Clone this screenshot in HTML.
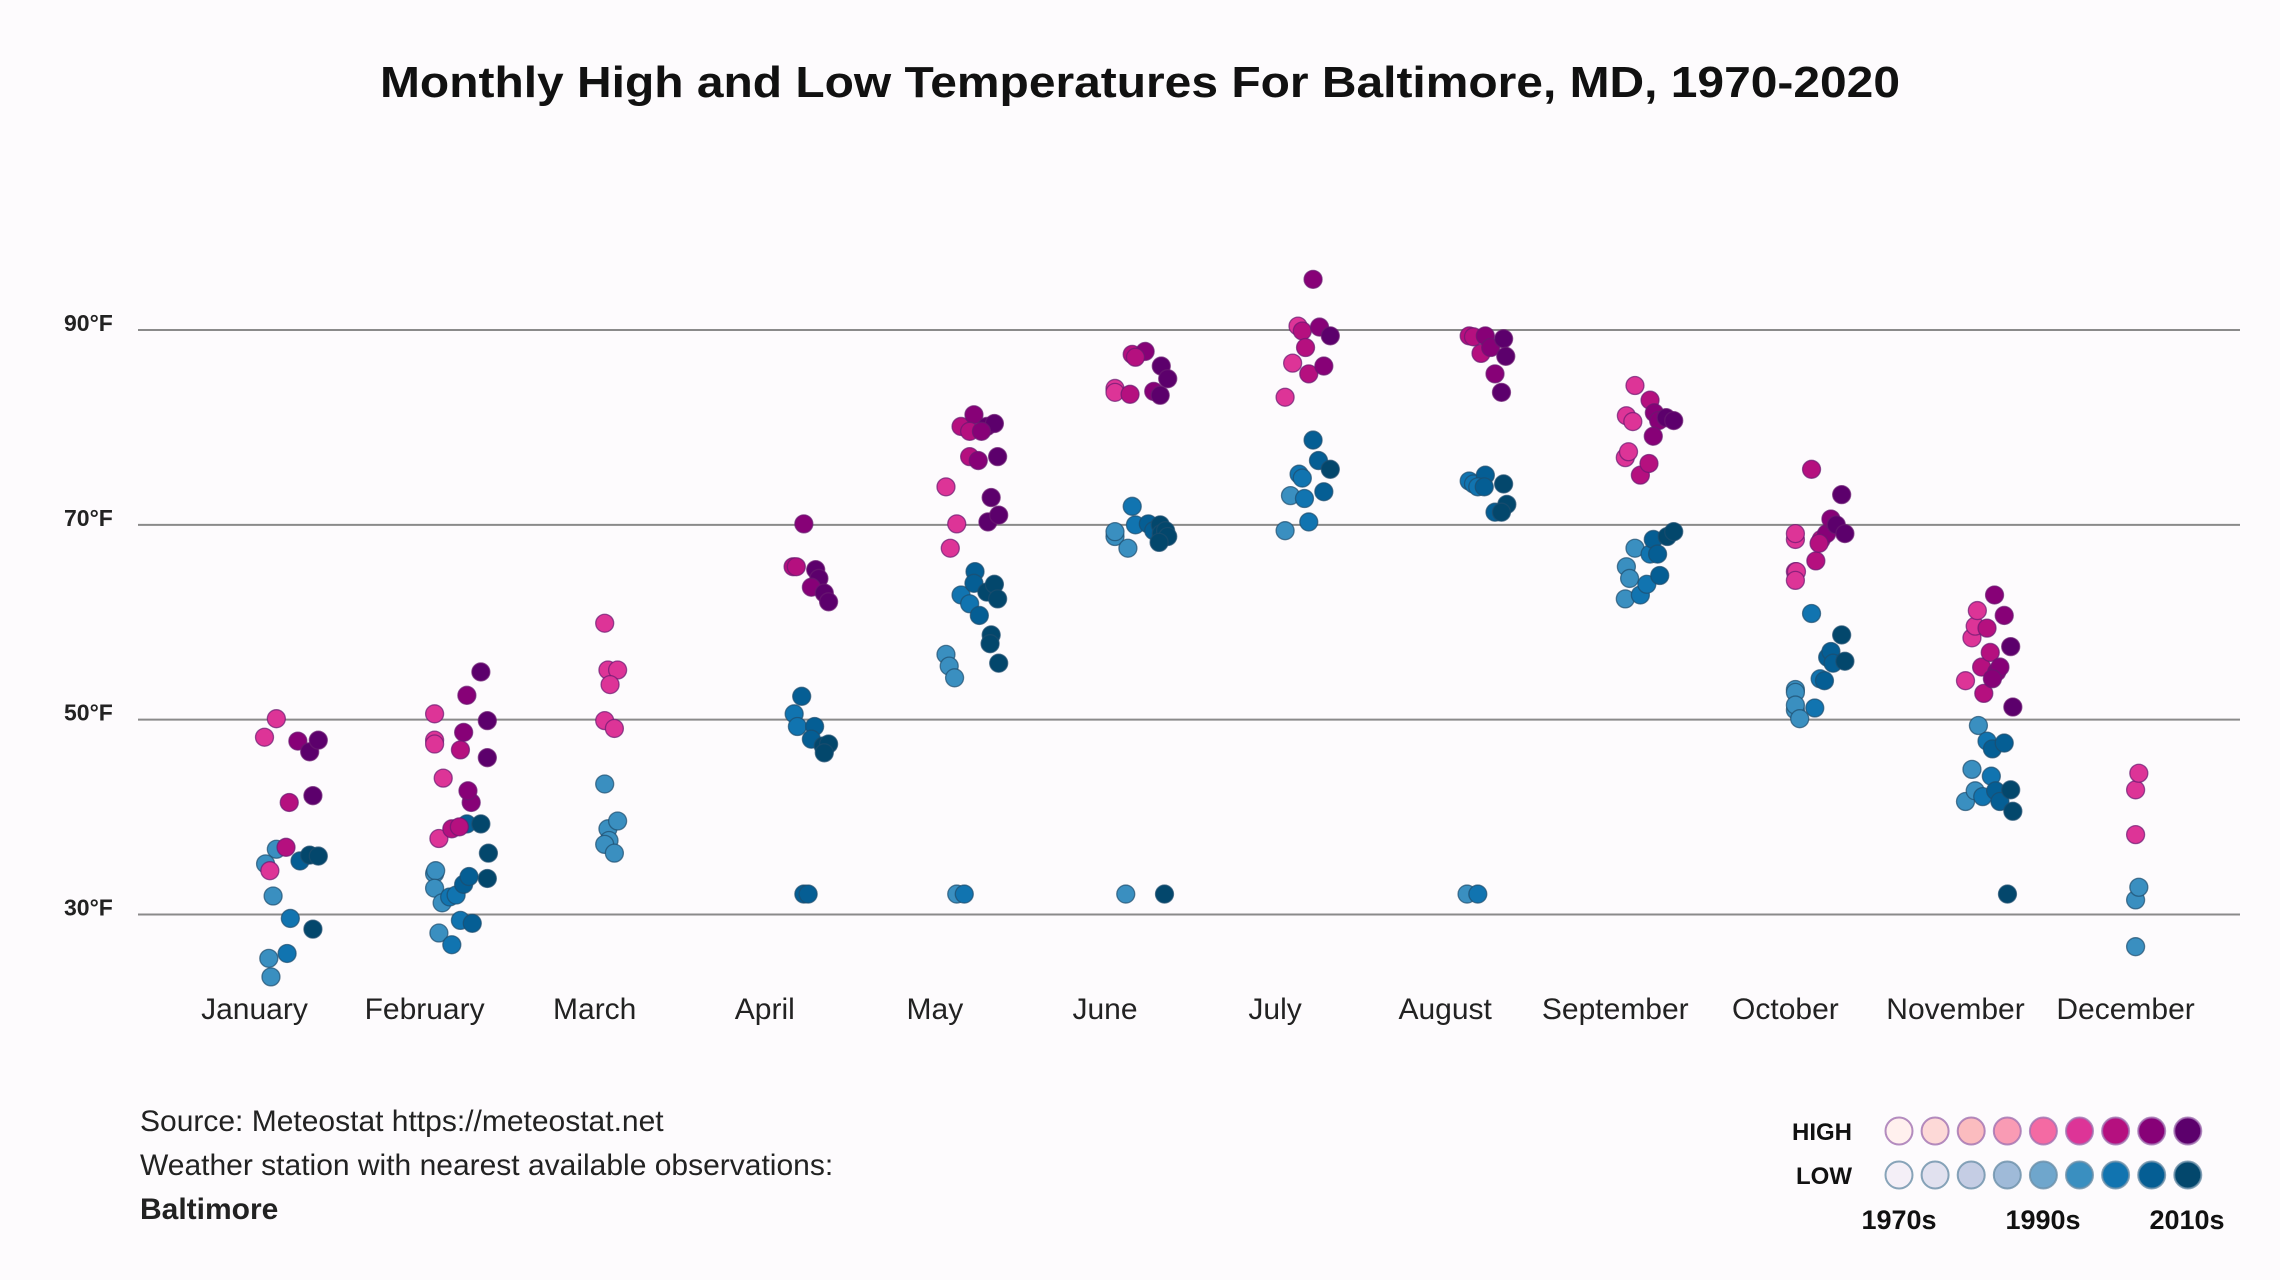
<!DOCTYPE html>
<html><head><meta charset="utf-8"><style>
html,body{margin:0;padding:0;background:#fdfbfd;}
svg{display:block;font-family:"Liberation Sans",sans-serif;}
</style></head><body>
<svg id="chart" width="2280" height="1280" viewBox="0 0 2280 1280">
<rect width="2280" height="1280" fill="#fdfbfd"/>
<text x="1140" y="97" text-anchor="middle" font-size="44" font-weight="bold" fill="#111" textLength="1520" lengthAdjust="spacingAndGlyphs">Monthly High and Low Temperatures For Baltimore, MD, 1970-2020</text>
<g id="grid"></g>
<g id="ylabels"></g>
<g id="xlabels"></g>
<g id="points"></g>
<g font-size="30" fill="#222">
<text x="140" y="1131">Source: Meteostat https://meteostat.net</text>
<text x="140" y="1175">Weather station with nearest available observations:</text>
<text x="140" y="1219" font-weight="bold">Baltimore</text>
</g>
<g id="legend" font-weight="bold" font-size="24" fill="#111">
<text x="1852" y="1140" text-anchor="end">HIGH</text>
<text x="1852" y="1184" text-anchor="end">LOW</text>
<text x="1899" y="1229" text-anchor="middle" font-size="27">1970s</text>
<text x="2043" y="1229" text-anchor="middle" font-size="27">1990s</text>
<text x="2187" y="1229" text-anchor="middle" font-size="27">2010s</text>
</g>
</svg>
<script>
const months = ["January","February","March","April","May","June","July","August","September","October","November","December"];
const yTicks = [30,50,70,90];
const highColors = ["#fff0ee","#fdd9d7","#fbbcbf","#f99bb4","#f46aa3","#dd3497","#b5107f","#870177","#5c006c"];
const lowColors = ["#f4eff7","#e1e1ef","#c5cde4","#9fbad8","#6fa6cc","#3a8fc0","#1174b0","#055e94","#03476c"];
const highs = [
 [[1970,48.2],[1981,50.1],[2001,47.8],[2012,46.7],[2020,47.9],[2015,42.2],[1993,41.5],[1990,36.9],[1975,34.5]],
 [[1970,50.6],[1970,47.9],[1970,47.5],[1978,44.0],[1974,37.8],[1986,38.8],[2000,52.5],[1997,48.7],[1994,46.9],[2013,54.9],[2019,49.9],[2019,46.1],[2004,41.5],[1993,39.0],[2001,42.7]],
 [[1970,59.9],[1973,55.1],[1982,55.1],[1975,53.6],[1970,49.9],[1979,49.1]],
 [[1987,65.7],[1990,65.7],[1997,70.1],[2008,65.4],[2011,64.5],[2004,63.6],[2016,63.0],[2020,62.1]],
 [[1971,73.9],[1981,70.1],[1975,67.6],[1985,80.1],[1997,81.3],[1993,79.6],[2009,80.1],[2016,80.4],[2004,79.6],[1993,77.0],[2001,76.6],[2019,77.0],[2013,72.8],[2010,70.3],[2020,71.0]],
 [[1970,84.0],[1970,83.6],[1984,83.4],[1986,87.5],[1998,87.8],[1989,87.2],[2006,83.7],[2012,83.3],[2013,86.3],[2019,85.0]],
 [[1970,83.1],[1977,86.6],[1982,90.4],[1986,89.9],[1989,88.2],[1992,85.5],[1996,95.2],[2002,90.3],[2006,86.3],[2012,89.4]],
 [[1983,89.4],[1987,89.3],[1998,89.4],[1994,87.6],[2003,88.2],[2015,89.1],[2007,85.5],[2013,83.6],[2017,87.3]],
 [[1970,76.9],[1973,77.5],[1979,84.3],[1971,81.2],[1977,80.6],[1984,75.1],[1992,76.3],[1993,82.8],[1997,81.5],[2001,80.7],[2008,81.0],[2015,80.7],[1996,79.1]],
 [[1970,68.5],[1970,69.1],[1970,65.2],[1971,65.2],[1970,64.3],[1985,75.7],[1989,66.3],[1994,68.5],[1999,69.1],[2003,70.6],[2008,70.0],[2013,73.1],[2016,69.1],[1992,68.1]],
 [[1970,54.0],[1976,58.4],[1979,59.6],[1981,61.2],[1985,55.4],[1987,52.7],[1990,59.4],[1993,56.9],[1997,62.8],[1999,54.9],[2002,55.4],[2006,60.7],[2012,57.5],[2014,51.3],[1995,54.2]],
 [[1970,38.2],[1970,42.8],[1973,44.5]]
];
const lows = [
 [[1981,36.7],[1971,35.2],[1978,31.9],[1994,29.6],[2015,28.5],[2003,35.5],[2012,36.1],[2020,36.0],[1974,25.5],[1991,26.0],[1976,23.6]],
 [[1970,34.2],[1971,34.5],[1970,32.7],[1977,31.2],[1984,31.8],[1990,32.0],[1997,33.1],[2002,33.9],[2000,39.3],[2013,39.3],[2020,36.3],[2019,33.7],[1974,28.1],[1986,26.9],[1994,29.4],[2005,29.1]],
 [[1970,43.4],[1973,38.8],[1982,39.6],[1974,37.6],[1970,37.2],[1979,36.3]],
 [[1995,52.4],[1988,50.6],[1991,49.3],[2007,49.3],[2004,48.0],[2015,47.3],[2020,47.5],[2016,46.6],[1997,32.1],[2001,32.1]],
 [[1971,56.7],[1974,55.5],[1979,54.3],[1985,62.8],[1993,61.9],[1998,65.2],[2002,60.7],[1997,64.0],[2009,63.1],[2016,63.9],[2019,62.4],[2013,58.7],[2012,57.8],[2020,55.8],[1981,32.1],[1988,32.1]],
 [[1970,68.8],[1970,69.3],[1982,67.6],[1986,71.9],[1989,70.0],[2001,70.1],[2006,69.4],[2012,70.0],[2013,69.1],[2017,69.4],[2019,68.8],[2011,68.2],[1980,32.1],[2016,32.1]],
 [[1970,69.4],[1975,73.0],[1983,75.2],[1986,74.8],[1988,72.7],[1992,70.3],[1996,78.7],[2001,76.6],[2006,73.4],[2012,75.7]],
 [[1983,74.5],[1987,74.2],[1998,75.1],[1991,73.9],[1997,73.9],[2015,74.2],[2018,72.1],[2007,71.3],[2013,71.3],[1981,32.1],[1991,32.1]],
 [[1970,62.4],[1971,65.7],[1974,64.5],[1979,67.6],[1984,62.8],[1990,63.9],[1993,67.0],[1996,68.5],[2000,67.0],[2002,64.8],[2009,68.8],[2015,69.3]],
 [[1970,53.1],[1970,52.8],[1970,51.0],[1970,51.5],[1974,50.1],[1985,60.9],[1988,51.2],[1993,54.2],[1997,54.0],[2000,56.4],[2003,57.0],[2005,55.8],[2013,58.7],[2016,56.0]],
 [[1970,41.6],[1976,44.9],[1979,42.7],[1982,49.4],[1986,42.1],[1990,47.8],[1994,44.2],[1995,47.0],[1998,42.7],[2002,41.6],[2006,47.6],[2012,42.8],[2014,40.6],[2009,32.1]],
 [[1970,26.7],[1970,31.5],[1973,32.8]]
];
const NS="http://www.w3.org/2000/svg";
function yScale(v){return 330+(90-v)*9.742;}
function monthX(i){return 254.5+i*170.1;}
function pointX(i,year){return monthX(i)+10+(year-1970)*1.076;}
function colorIdx(year){return Math.min(8,5+Math.floor((year-1970)/12.5));}
function mk(tag,attrs,parent){const e=document.createElementNS(NS,tag);for(const k in attrs)e.setAttribute(k,attrs[k]);parent.appendChild(e);return e;}
const grid=document.getElementById('grid'),yl=document.getElementById('ylabels'),xl=document.getElementById('xlabels'),pts=document.getElementById('points'),leg=document.getElementById('legend');
yTicks.forEach(t=>{
 const l=mk('line',{x1:138,x2:2240,y1:yScale(t),y2:yScale(t),stroke:'#8a8a8a','stroke-width':2},grid);
 
 
 const tx=mk('text',{x:64,y:yScale(t)+1,'font-size':23,'font-weight':'bold',fill:'#222'},yl);
 tx.textContent=t+'°F';
 
 
});
months.forEach((m,i)=>{
 const tx=mk('text',{x:monthX(i),y:1019,'text-anchor':'middle','font-size':30,fill:'#222'},xl);
 tx.textContent=m;
 
 
});
function drawSeries(data,colors,stroke,kind){
 data.forEach((arr,i)=>{arr.forEach(([yr,v])=>{
  const c=mk('circle',{cx:pointX(i,yr),cy:yScale(v),r:9,fill:colors[colorIdx(yr)],stroke:stroke,'stroke-width':1.3,'stroke-opacity':0.7},pts);
  
  
 });});
}
drawSeries(lows,lowColors,'#1e4d6e','low');
drawSeries(highs,highColors,'#6a1a70','high');
for(let k=0;k<9;k++){
 const a=mk('circle',{cx:1899+k*36.1,cy:1131,r:13.5,fill:highColors[k],stroke:'#a070b0','stroke-width':2,'stroke-opacity':0.8},leg);
 
 
 const b=mk('circle',{cx:1899+k*36.1,cy:1175,r:13.5,fill:lowColors[k],stroke:'#6a8ea8','stroke-width':2,'stroke-opacity':0.8},leg);
 
 
}
</script>
</body></html>
